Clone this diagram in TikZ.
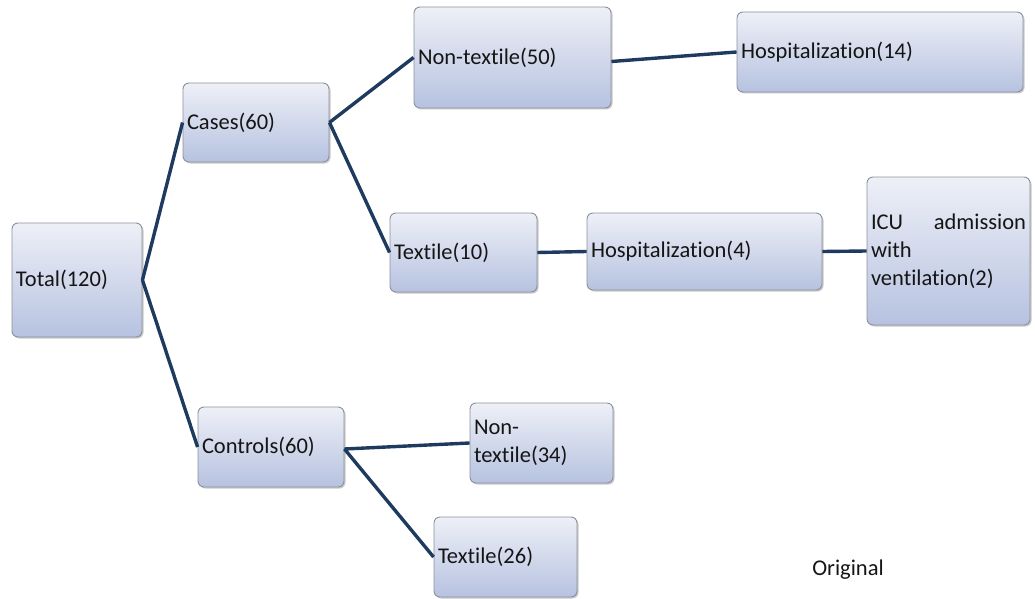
\documentclass[tikz,border=0pt]{standalone}
\usepackage{fontspec}
\setmainfont{Carlito}[Ligatures=NoCommon]
\usetikzlibrary{shadows}
\definecolor{linkc}{HTML}{1F3A5F}
\definecolor{boxtop}{HTML}{EEF0F7}
\definecolor{boxbot}{HTML}{B6C2E0}
\definecolor{boxedge}{HTML}{8A909C}
\definecolor{txt}{HTML}{151515}
\begin{document}
\begin{tikzpicture}[x=1pt,y=-1pt,
  box/.style={draw=boxedge, line width=0.9pt, rounded corners=6pt,
    top color=boxtop, bottom color=boxbot,
    drop shadow={opacity=0.35, shadow xshift=1.5pt, shadow yshift=-1.5pt, fill=black!60},
    inner xsep=4pt, inner ysep=2pt, align=left, text=txt,
    font=\fontsize{22.5}{28}\selectfont},
  link/.style={draw=linkc, line width=3.4pt}]
\useasboundingbox (0,0) rectangle (1035,599);
\node[box, text width=122pt, minimum height=114pt] (total) at (77,280) {Total(120)};
\node[box, text width=138pt, minimum height=79pt] (cases) at (256,122.5) {Cases(60)};
\node[box, text width=138pt, minimum height=80pt] (controls) at (271,447) {Controls(60)};
\node[box, text width=189pt, minimum height=101pt] (n50) at (512.5,57.5) {Non-textile(50)};
\node[box, text width=139pt, minimum height=79pt] (t10) at (463.5,252.5) {Textile(10)};
\node[box, text width=278pt, minimum height=80pt] (h14) at (880,52) {Hospitalization(14)};
\node[box, text width=227pt, minimum height=77pt] (h4) at (704.5,251.5) {Hospitalization(4)};
\node[box, text width=155pt, minimum height=148pt] (icu) at (948.5,251) {ICU\hfill admission\\with\\ventilation(2)};
\node[box, text width=135pt, minimum height=80pt] (n34) at (541.5,443) {Non-\\textile(34)};
\node[box, text width=135pt, minimum height=80pt] (t26) at (505.5,557) {Textile(26)};
\node[text=txt, font=\fontsize{22.5}{28}\selectfont] (orig) at (848,570) {Original};
\draw[link] (total.east) -- (cases.west);
\draw[link] (total.east) -- (controls.west);
\draw[link] (cases.east) -- (n50.west);
\draw[link] (cases.east) -- (t10.west);
\draw[link] ([yshift=-4pt]n50.east) -- (h14.west);
\draw[link] (t10.east) -- (h4.west);
\draw[link] (h4.east) -- (icu.west);
\draw[link] ([yshift=-2pt]controls.east) -- (n34.west);
\draw[link] ([yshift=-2pt]controls.east) -- (t26.west);
\end{tikzpicture}
\end{document}
